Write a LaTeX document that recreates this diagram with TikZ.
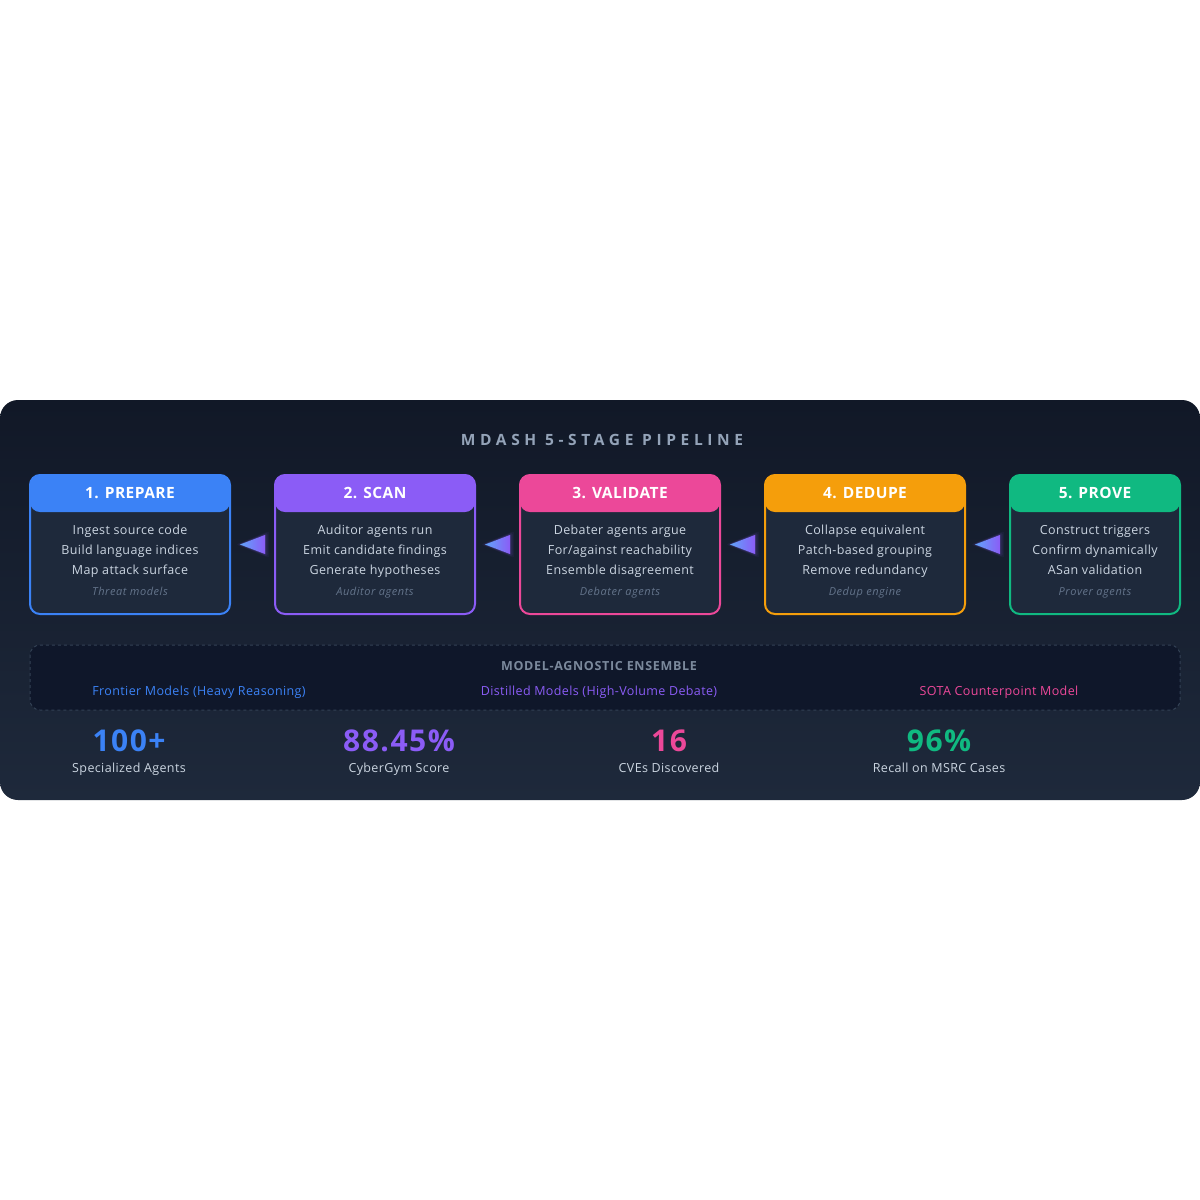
\documentclass[tikz,border=0pt]{standalone}
\usepackage{fontspec}
\setmainfont{Open Sans}
\usetikzlibrary{calc}
\definecolor{bgA}{HTML}{111827}
\definecolor{bgB}{HTML}{1E293B}
\definecolor{boxbg}{HTML}{1E293B}
\definecolor{ensbg}{HTML}{0F172A}
\definecolor{ensline}{HTML}{334155}
\definecolor{cblue}{HTML}{3B82F6}
\definecolor{cpurple}{HTML}{8B5CF6}
\definecolor{cpink}{HTML}{EC4899}
\definecolor{corange}{HTML}{F59E0B}
\definecolor{cgreen}{HTML}{10B981}
\definecolor{ttitle}{HTML}{94A3B8}
\definecolor{tbody}{HTML}{CBD5E1}
\definecolor{tnote}{HTML}{64748B}
\definecolor{arrA}{HTML}{60A5FA}
\definecolor{arrB}{HTML}{8B5CF6}
\begin{document}
\begin{tikzpicture}[x=1pt,y=-1pt,
  stage/.style={draw=#1, line width=2pt, fill=boxbg, rounded corners=10pt,
    minimum height=139pt, inner sep=0pt,
    path picture={\fill[#1] (path picture bounding box.north west) rectangle ([yshift=-37pt]path picture bounding box.north east);}},
  head/.style={text=white, font=\fontsize{15.5}{18}\selectfont\bfseries\addfontfeatures{LetterSpace=3}, inner sep=0pt, anchor=base},
  body/.style={text=tbody, font=\fontsize{12.5}{16}\selectfont\addfontfeatures{LetterSpace=3}, inner sep=0pt, anchor=base},
  note/.style={text=tnote, font=\fontsize{11}{13}\selectfont\itshape\addfontfeatures{LetterSpace=5}, inner sep=0pt, anchor=base},
  enslab/.style={text=#1, font=\fontsize{12.5}{15}\selectfont\addfontfeatures{LetterSpace=3}, inner sep=0pt, anchor=base},
  statnum/.style={text=#1, font=\fontsize{30}{34}\selectfont\bfseries\addfontfeatures{LetterSpace=5}, inner sep=0pt, anchor=base},
  statlab/.style={text=tbody, font=\fontsize{12.5}{16}\selectfont\addfontfeatures{LetterSpace=3}, inner sep=0pt, anchor=base},
]
\useasboundingbox (0,0) rectangle (1200,1200);
\fill[white] (0,0) rectangle (1200,1200);
% panel
\shade[top color=bgA, bottom color=bgB, rounded corners=18pt] (0,400) rectangle (1200,800);
% title
\node[text=ttitle, font=\fontsize{15.5}{19}\selectfont\bfseries\addfontfeatures{LetterSpace=30}, inner sep=0pt, anchor=base] (title) at (602,445.5) {MDASH 5-STAGE PIPELINE};
% stages
\node[stage=cblue,   minimum width=200pt] (b1) at (130,544.5) {};
\node[stage=cpurple, minimum width=200pt] (b2) at (375,544.5) {};
\node[stage=cpink,   minimum width=200pt] (b3) at (620,544.5) {};
\node[stage=corange, minimum width=200pt] (b4) at (865,544.5) {};
\node[stage=cgreen,  minimum width=170pt] (b5) at (1095,544.5) {};
% stage texts
\foreach \b/\h/\la/\lb/\lc/\n in {
  b1/1. PREPARE/Ingest source code/Build language indices/Map attack surface/Threat models,
  b2/2. SCAN/Auditor agents run/Emit candidate findings/Generate hypotheses/Auditor agents,
  b3/3. VALIDATE/Debater agents argue/For\slash against reachability/Ensemble disagreement/Debater agents,
  b4/4. DEDUPE/Collapse equivalent/Patch-based grouping/Remove redundancy/Dedup engine,
  b5/5. PROVE/Construct triggers/Confirm dynamically/ASan validation/Prover agents}{
  \node[head] (\b h) at ($(\b.north)+(0,24.5)$) {\h};
  \node[body] (\b l1) at ($(\b.north)+(0,60.5)$) {\la};
  \node[body] (\b l2) at ($(\b.north)+(0,80.5)$) {\lb};
  \node[body] (\b l3) at ($(\b.north)+(0,100.5)$) {\lc};
  \node[note] (\b n) at ($(\b.north)+(0,121)$) {\n};
}
% arrows (pointing left)
\foreach \l/\r in {b1/b2,b2/b3,b3/b4,b4/b5}{
  \coordinate (m\l) at ($(\l.east)!0.5!(\r.west)$);
  \foreach \g/\o in {4/0.06,2.5/0.10,1.2/0.16}{
    \fill[cpurple, opacity=\o, rounded corners=2pt]
      ($(m\l)+(-12.5-\g,0)$) -- ($(m\l)+(12.5+\g,-9.5-\g)$) -- ($(m\l)+(12.5+\g,9.5+\g)$) -- cycle;
  }
  \shade[left color=arrA, right color=arrB]
    ($(m\l)+(-12.5,0)$) -- ($(m\l)+(12.5,-9.5)$) -- ($(m\l)+(12.5,9.5)$) -- cycle;
}
% ensemble
\draw[draw=ensline, fill=ensbg, dashed, line width=1pt, rounded corners=10pt] (30,645) rectangle (1180,710);
\node[text=tnote!85!white, font=\fontsize{12.5}{15}\selectfont\bfseries\addfontfeatures{LetterSpace=5.5}, inner sep=0pt, anchor=base] (ens) at (599,670) {MODEL-AGNOSTIC ENSEMBLE};
\node[enslab=cblue]   (e1) at (199,695) {Frontier Models (Heavy Reasoning)};
\node[enslab=cpurple] (e2) at (599,695) {Distilled Models (High-Volume Debate)};
\node[enslab=cpink]   (e3) at (999,695) {SOTA Counterpoint Model};
% stats
\foreach \k/\x/\c/\v/\t in {s1/129/cblue/100+/Specialized Agents, s2/399/cpurple/88.45\%/CyberGym Score, s3/669/cpink/16/CVEs Discovered, s4/939/cgreen/96\%/Recall on MSRC Cases}{
  \node[statnum=\c] (\k) at (\x,751) {\v};
  \node[statlab] (\k l) at (\x,772) {\t};
}
\end{tikzpicture}
\end{document}
